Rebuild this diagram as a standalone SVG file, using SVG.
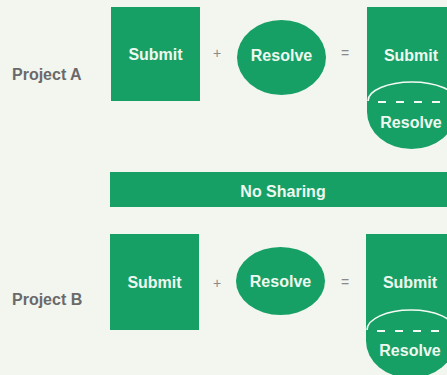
<svg xmlns="http://www.w3.org/2000/svg" width="447" height="375" viewBox="0 0 447 375">
<style>
.bg{fill:#f3f5ef}
.g{fill:#17a066}
.t{font-family:"Liberation Sans",Arial,sans-serif;font-weight:bold;font-size:16px;fill:#eef8ef;text-anchor:middle;dominant-baseline:central}
.lbl{font-family:"Liberation Sans",Arial,sans-serif;font-weight:bold;font-size:16px;fill:#6a6a6a;dominant-baseline:central}
.op{font-family:"Liberation Sans",Arial,sans-serif;font-size:14px;fill:#8a8a8a;text-anchor:middle;dominant-baseline:central}
.arc{fill:none;stroke:#f4fbf4;stroke-width:1.6}
.dash{fill:none;stroke:#f4fbf4;stroke-width:1.8;stroke-dasharray:8 10}
</style>
<rect class="bg" x="0" y="0" width="447" height="375"/>

<g id="projectA-label"><text class="lbl" x="12" y="74">Project A</text></g>
<g id="submitA"><rect class="g" x="111" y="7" width="89" height="94"/><text class="t" x="155.5" y="54">Submit</text></g>
<g id="plusA"><text class="op" x="217" y="53">+</text></g>
<g id="resolveA"><ellipse class="g" cx="281.5" cy="57.5" rx="44.5" ry="37.5"/><text class="t" x="281.5" y="55">Resolve</text></g>
<g id="equalsA"><text class="op" x="345" y="53">=</text></g>
<g id="combinedA">
<rect class="g" x="367" y="7" width="89" height="96"/>
<path class="g" d="M367 102 L367 112 A44.5 37 0 0 0 456 112 L456 102 Z"/>
<path class="arc" d="M368 101 A44 19 0 0 1 456 101"/>
<line class="dash" x1="369" y1="102" x2="447" y2="102" stroke-dashoffset="-9"/>
<text class="t" x="411" y="55">Submit</text>
<text class="t" x="411" y="122">Resolve</text>
</g>

<g id="noSharing"><rect class="g" x="110" y="172" width="337" height="35"/><text class="t" x="283" y="191">No Sharing</text></g>

<g id="projectB-label"><text class="lbl" x="12" y="299">Project B</text></g>
<g id="submitB"><rect class="g" x="110" y="234" width="89" height="96"/><text class="t" x="154.5" y="282">Submit</text></g>
<g id="plusB"><text class="op" x="217" y="283">+</text></g>
<g id="resolveB"><ellipse class="g" cx="280.5" cy="281" rx="44.5" ry="34"/><text class="t" x="280.5" y="281">Resolve</text></g>
<g id="equalsB"><text class="op" x="345" y="282">=</text></g>
<g id="combinedB">
<rect class="g" x="366" y="234" width="89" height="98"/>
<path class="g" d="M366 331 L366 341 A44.5 37 0 0 0 455 341 L455 331 Z"/>
<path class="arc" d="M367 330 A44 20 0 0 1 455 330"/>
<line class="dash" x1="368" y1="331" x2="447" y2="331" stroke-dashoffset="-9"/>
<text class="t" x="410" y="282">Submit</text>
<text class="t" x="410" y="350">Resolve</text>
</g>
<g id="connectors"></g>
</svg>
